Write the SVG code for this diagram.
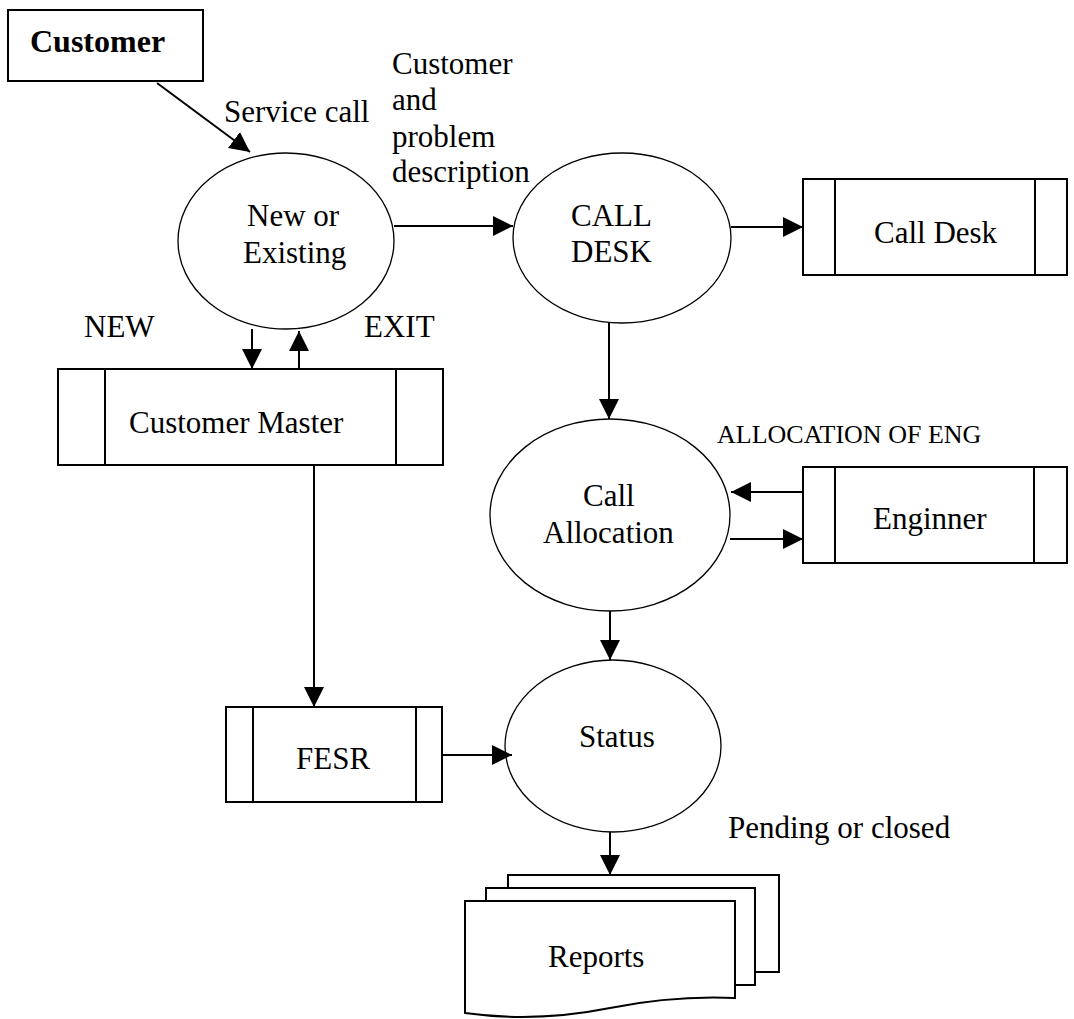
<svg xmlns="http://www.w3.org/2000/svg" width="1074" height="1019" viewBox="0 0 1074 1019">
<defs>
<marker id="arr" markerUnits="userSpaceOnUse" markerWidth="20" markerHeight="20" viewBox="0 0 20 20" refX="20" refY="10" orient="auto">
<path d="M0,0 L20,10 L0,20 z" fill="#000"/>
</marker>
</defs>
<style>
text{font-family:"Liberation Serif","Times New Roman",serif;font-size:31px;fill:#000}
.b{font-weight:bold;font-size:32px}
.sm{font-size:26px}
.proc{fill:#fff;stroke:#000;stroke-width:1.3}
.box{fill:#fff;stroke:#000;stroke-width:2}
.div{stroke:#000;stroke-width:2}
.con line{stroke:#000;stroke-width:2;marker-end:url(#arr)}
</style>
<rect width="1074" height="1019" fill="#fff"/>

<g id="customer">
<rect class="box" x="8" y="10" width="195" height="71"/>
<text class="b" x="30" y="52">Customer</text>
</g>

<g id="new-existing">
<ellipse class="proc" cx="286" cy="241" rx="108" ry="88"/>
<text x="247" y="226">New or</text>
<text x="243" y="263">Existing</text>
</g>

<g id="call-desk-process">
<ellipse class="proc" cx="622" cy="238" rx="109" ry="85"/>
<text x="571" y="226">CALL</text>
<text x="571" y="262">DESK</text>
</g>

<g id="call-desk-store">
<rect class="box" x="803" y="179" width="264" height="96"/>
<line class="div" x1="835" y1="179" x2="835" y2="275"/>
<line class="div" x1="1035" y1="179" x2="1035" y2="275"/>
<text x="874" y="243">Call Desk</text>
</g>

<g id="customer-master">
<rect class="box" x="58" y="369" width="385" height="96"/>
<line class="div" x1="105" y1="369" x2="105" y2="465"/>
<line class="div" x1="396" y1="369" x2="396" y2="465"/>
<text x="129" y="433">Customer Master</text>
</g>

<g id="call-allocation">
<ellipse class="proc" cx="610" cy="515" rx="120" ry="96"/>
<text x="583" y="506">Call</text>
<text x="543" y="543">Allocation</text>
</g>

<g id="engineer">
<rect class="box" x="803" y="467" width="264" height="96"/>
<line class="div" x1="835" y1="467" x2="835" y2="563"/>
<line class="div" x1="1034" y1="467" x2="1034" y2="563"/>
<text x="873" y="529">Enginner</text>
</g>

<g id="fesr">
<rect class="box" x="226" y="707" width="216" height="95"/>
<line class="div" x1="253" y1="707" x2="253" y2="802"/>
<line class="div" x1="416" y1="707" x2="416" y2="802"/>
<text x="296" y="769">FESR</text>
</g>

<g id="status">
<ellipse class="proc" cx="613" cy="746" rx="108" ry="86"/>
<text x="579" y="747">Status</text>
</g>

<g id="reports">
<path class="box" d="M508,901 V875 H779 V972 H755"/>
<path class="box" d="M486,901 V888 H755 V985 H735"/>
<path class="box" d="M465,901 H735 V998 C690,996 650,1000 610,1008 C560,1018 515,1020 465,1013 Z"/>
<text x="548" y="967">Reports</text>
</g>

<g id="connectors" class="con">
<line x1="157" y1="83" x2="250" y2="152"/>
<line x1="394" y1="226" x2="513" y2="226"/>
<line x1="731" y1="227" x2="803" y2="227"/>
<line x1="252" y1="329" x2="252" y2="369"/>
<line x1="299" y1="369" x2="299" y2="331"/>
<line x1="609" y1="322" x2="609" y2="419"/>
<line x1="803" y1="492" x2="731" y2="492"/>
<line x1="730" y1="539" x2="803" y2="539"/>
<line x1="314" y1="465" x2="314" y2="707"/>
<line x1="442" y1="755" x2="512" y2="755"/>
<line x1="610" y1="611" x2="610" y2="660"/>
<line x1="610" y1="832" x2="610" y2="875"/>
</g>

<g id="labels">
<text x="224" y="122">Service call</text>
<text x="392" y="74">Customer</text>
<text x="392" y="110">and</text>
<text x="392" y="147">problem</text>
<text x="392" y="182">description</text>
<text x="84" y="337">NEW</text>
<text x="364" y="337">EXIT</text>
<text class="sm" x="717" y="443">ALLOCATION OF ENG</text>
<text x="728" y="838">Pending or closed</text>
</g>
</svg>
